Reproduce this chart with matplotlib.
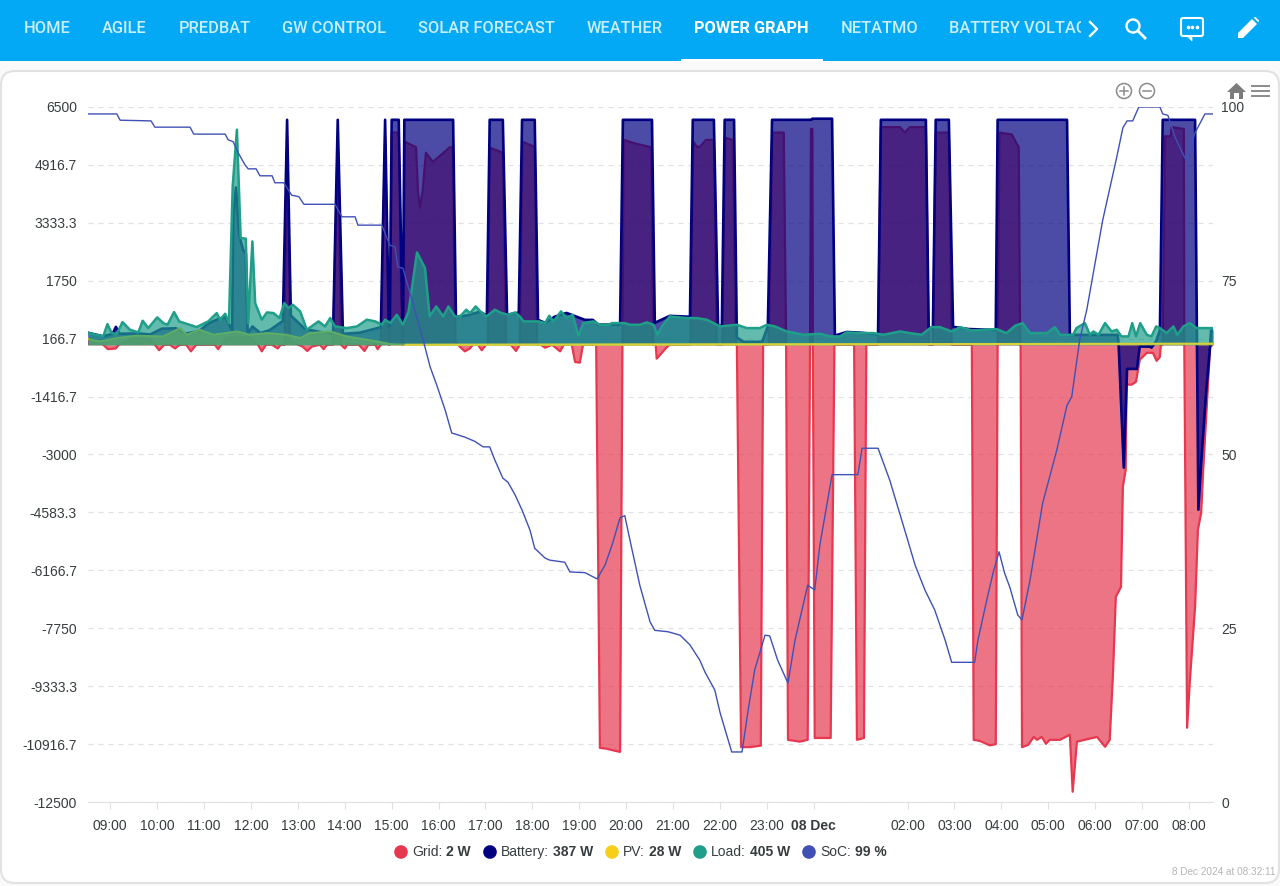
import matplotlib
matplotlib.use("Agg")
import matplotlib.pyplot as plt
from matplotlib.patches import Circle, FancyBboxPatch, Polygon, Rectangle

# hours are counted from midnight on 7 Dec, so 24 = 08 Dec 00:00
grid_h = [8.52, 8.78, 8.85, 8.95, 9.12, 9.18, 9.5, 9.85, 9.95, 10.04, 10.15, 10.27, 10.38, 10.48, 10.62, 10.72, 10.83,
          11.23, 11.30, 11.36, 11.5, 11.97, 12.15, 12.23, 12.32, 12.45, 12.57, 12.63,
          12.72, 12.77, 12.83, 13.1, 13.2, 13.3, 13.47, 13.55, 13.62, 13.75, 13.85, 13.92, 14.0, 14.05, 14.3, 14.42, 14.5,
          14.65, 14.70, 14.77, 14.86, 14.94, 14.96, 15.00, 15.15, 15.22, 15.25, 15.28, 15.52, 15.56, 15.60, 15.66, 15.73,
          15.88, 16.24, 16.30, 16.36, 16.45, 16.56, 16.67, 16.73, 16.84, 16.92, 17.01, 17.05, 17.09, 17.37, 17.44, 17.54,
          17.65, 17.73, 17.79, 18.05, 18.10, 18.18, 18.27, 18.42, 18.59, 18.67, 18.84, 18.91, 19.01, 19.08, 19.36, 19.44,
          19.59, 19.76, 19.87, 19.92, 19.95, 20.2, 20.53, 20.58, 20.63, 20.65, 20.76, 20.87, 20.93, 21.37, 21.43, 21.51,
          21.57, 21.70, 21.87, 21.93, 22.05, 22.11, 22.27, 22.34, 22.36, 22.45, 22.64, 22.87, 22.92, 23.04, 23.12, 23.36,
          23.41, 23.45, 23.70, 23.87, 23.92, 23.94, 23.97, 23.98, 24.02, 24.36, 24.44, 24.86, 24.92, 25.07, 25.12, 25.37,
          25.43, 25.84, 25.94, 26.05, 26.39, 26.45, 26.54, 26.60, 26.88, 26.94, 27.37, 27.41, 27.54, 27.75, 27.88, 27.92,
          27.96, 28.22, 28.37, 28.40, 28.41, 28.44, 28.57, 28.69, 28.76, 28.86, 28.95, 29.03, 29.25, 29.46, 29.52, 29.61,
          29.95, 30.04, 30.21, 30.31, 30.38, 30.44, 30.55, 30.59, 30.65, 30.67, 30.78, 30.87, 30.95, 31.10, 31.23, 31.31,
          31.38, 31.40, 31.44, 31.49, 31.61, 31.63, 31.89, 31.90, 31.96, 32.02, 32.13, 32.19, 32.26, 32.30, 32.40, 32.45,
          32.51]
grid_w = [150, 100, 0, -120, -100, 0, 180, 150, 0, -150, 0, 0, -100, 0, 0, -180, 0,
          0, -120, 0, 200, 200, 0, -180, 0, 0, -100, 0,
          0, 5700, 100, -50, -170, -50, 0, -120, 0, 0, 5700, 0, -100, 0, 0, -170, 0,
          0, -120, 0, 5700, 0, 0, 5800, 5800, 0, 0, 5550, 5400, 4200, 3750, 4200, 5250,
          5000, 5400, 5400, 100, -50, -180, -100, 0, 0, -150, 0, 0, 5390, 5250, 0, 0,
          -170, 0, 5550, 5410, 0, 0, -80, 0, -180, 0, 0, -470, -490, 0, 0, -11020,
          -11045, -11100, -11130, 0, 5600, 5500, 5400, 0, 0, -380, -220, -60, 0, 0, 5550, 5410,
          5410, 5600, 5600, 0, 0, 5660, 5600, 0, 0, -11000, -11000, -10960, 0, 0, 5800, 5800,
          0, -10800, -10850, -10800, 0, 5900, 5900, 0, -10750, -10750, 0, 0, -10800, -10750, 0, 0,
          5950, 5950, 5800, 5950, 5950, 0, 0, 5800, 5800, 0, 0, -10800, -10830, -10950, -10920, 0,
          5800, 5750, 5400, 0, 0, -11000, -10940, -10720, -10800, -10720, -10910, -10800, -10800, -10660, -12220, -10850,
          -10745, -10720, -10990, -10800, -8970, -6890, -6620, -3880, -3420, -1090, -1090, -1010, -410, -220, -220, -440,
          -330, 0, 0, 5700, 5700, 5950, 5900, 0, -10470, -9160, -7160, -5060, -4590, -3500, -1230, -55,
          0]

battery_h = [8.52, 8.85, 9.05, 9.12, 9.2, 9.6, 9.85, 10.1, 10.4, 10.6, 10.9, 11.1, 11.3, 11.45, 11.6, 11.62, 11.68, 11.75,
             11.83, 11.89, 11.93, 12.03, 12.2, 12.4,
             12.68, 12.77, 12.85, 13.15, 13.47, 13.75, 13.85, 13.96, 14.32, 14.77, 14.86, 14.94, 14.96, 15.00, 15.15, 15.23,
             15.24, 15.27, 16.31, 16.37, 16.6, 16.88, 17.03, 17.09, 17.37, 17.46, 17.71, 17.78, 18.05, 18.12, 18.27, 18.48,
             18.73, 19.12, 19.29, 19.40, 19.65, 19.87, 19.93, 20.55, 20.61, 20.93, 21.29, 21.36, 21.42, 21.87, 21.96, 22.04,
             22.10, 22.30, 22.36, 22.5, 22.9, 23.02, 23.11, 23.95, 23.97, 24.39, 24.45, 24.7, 25.0, 25.25, 25.37, 25.43,
             26.39, 26.45, 26.54, 26.60, 26.88, 26.97, 27.30, 27.75, 27.88, 27.92, 29.40, 29.46, 30.48, 30.50, 30.61, 30.68,
             30.89, 30.95, 31.17, 31.2, 31.3, 31.38, 31.44, 32.13, 32.17, 32.2, 32.27, 32.37, 32.45, 32.47, 32.51]
battery_w = [330, 230, 300, 490, 300, 310, 280, 440, 450, 300, 380, 590, 700, 760, 400, 3500, 4300, 3000,
             2600, 2500, 300, 500, 320, 400,
             650, 6150, 800, 430, 350, 300, 6150, 300, 330, 480, 6150, 520, 520, 6150, 6150, 650,
             650, 6150, 6150, 770, 800, 900, 800, 6150, 6150, 820, 880, 6150, 6150, 680, 600, 770,
             870, 680, 680, 550, 550, 550, 6150, 6150, 600, 790, 770, 770, 6150, 6150, 520, 520,
             6150, 6150, 200, 80, 80, 500, 6150, 6150, 6180, 6180, 250, 350, 330, 300, 280, 6150,
             6150, 460, 460, 6150, 6150, 490, 430, 410, 400, 6150, 6150, 270, 270, 0, -3360, -660,
             -660, -50, -50, -80, 100, 400, 6150, 6150, 100, -4510, -3050, -1230, -50, 387, 387]

pv_h = [8.53, 8.78, 9.14, 9.56, 10.13, 10.49, 10.63, 10.91, 11.20, 11.70, 11.98, 12.34, 12.76, 13.05, 13.26, 13.69, 14.04,
        14.68, 14.97, 15.3, 32.51]
pv_w = [155, 92, 183, 247, 228, 456, 274, 410, 274, 365, 274, 320, 274, 183, 320, 365, 228,
        92, 18, 0, 28]

load_h = [8.53, 8.85, 8.94, 9.03, 9.14, 9.26, 9.42, 9.60, 9.69, 9.81, 10.00, 10.13, 10.22, 10.36, 10.47, 10.84, 11.09,
          11.27, 11.34, 11.45, 11.53, 11.61, 11.70, 11.78, 11.89, 11.94, 12.03, 12.09, 12.23, 12.34, 12.48, 12.61, 12.71,
          12.80, 12.89, 13.05, 13.19, 13.44, 13.58, 13.69, 13.79, 14.04, 14.26, 14.47, 14.65, 14.79, 14.86, 14.97, 15.11,
          15.24, 15.36, 15.54, 15.71, 15.81, 15.95, 16.10, 16.21, 16.35, 16.46, 16.59, 16.67, 16.79, 16.89, 17.02, 17.20,
          17.34, 17.49, 17.63, 17.73, 17.81, 18.13, 18.27, 18.36, 18.45, 18.61, 18.73, 18.86, 18.98, 19.09, 19.30, 19.44,
          19.65, 19.69, 19.97, 20.08, 20.29, 20.44, 20.58, 20.67, 20.76, 20.93, 21.29, 21.50, 21.72, 22.00, 22.36, 22.57,
          22.85, 23.00, 23.17, 23.42, 23.60, 23.78, 24.13, 24.35, 24.56, 24.70, 24.99, 25.27, 25.48, 25.84, 26.05, 26.30,
          26.51, 26.69, 26.94, 27.12, 27.36, 27.65, 27.90, 28.11, 28.29, 28.45, 28.61, 28.97, 29.14, 29.25, 29.53, 29.60,
          29.78, 29.89, 29.96, 30.07, 30.21, 30.35, 30.46, 30.56, 30.71, 30.79, 30.87, 30.96, 31.10, 31.20, 31.30, 31.38,
          31.52, 31.67, 31.75, 31.88, 32.02, 32.16, 32.51]
load_w = [320, 228, 565, 320, 292, 620, 410, 338, 657, 456, 748, 593, 547, 894, 639, 484, 639,
          866, 684, 848, 593, 4330, 5880, 2917, 2900, 593, 2826, 1140, 684, 884, 866, 730, 1140,
          1003, 1094, 912, 410, 639, 502, 730, 502, 456, 502, 684, 639, 547, 684, 593, 820,
          547, 912, 2525, 2097, 775, 1048, 775, 1048, 775, 775, 958, 866, 1048, 912, 775, 958,
          866, 820, 884, 775, 639, 639, 593, 793, 639, 912, 730, 820, 247, 593, 639, 547,
          547, 593, 593, 547, 547, 611, 547, 274, 502, 775, 730, 730, 684, 502, 547, 456,
          456, 547, 502, 365, 320, 274, 301, 228, 228, 338, 320, 319, 273, 364, 319, 273,
          483, 483, 364, 483, 392, 410, 428, 319, 519, 592, 319, 319, 483, 273, 273, 456,
          592, 273, 364, 273, 592, 364, 410, 228, 228, 592, 228, 592, 273, 228, 501, 456,
          319, 501, 273, 501, 592, 456, 456]

soc_h = [8.52, 9.14, 9.21, 9.87, 9.95, 10.70, 10.78, 11.45, 11.51, 11.62, 11.72, 11.87, 11.94, 12.11, 12.19, 12.45, 12.51,
         12.70, 12.87, 13.02, 13.13, 13.79, 13.94, 14.22, 14.28, 14.79, 14.96, 15.07, 15.13, 15.24, 15.45, 15.67, 15.82,
         15.96, 16.14, 16.28, 16.56, 16.77, 16.95, 17.09, 17.20, 17.37, 17.48, 17.63, 17.78, 17.95, 18.05, 18.27, 18.37,
         18.69, 18.80, 19.12, 19.38, 19.55, 19.70, 19.87, 19.97, 20.08, 20.29, 20.51, 20.61, 20.89, 21.15, 21.36, 21.57,
         21.68, 21.89, 22.00, 22.25, 22.47, 22.60, 22.74, 22.96, 23.06, 23.23, 23.45, 23.60, 23.87, 24.02, 24.13, 24.39,
         24.94, 25.03, 25.37, 25.62, 25.94, 26.16, 26.37, 26.58, 26.80, 26.94, 27.43, 27.50, 27.69, 27.82, 27.95, 28.07,
         28.18, 28.35, 28.44, 28.61, 28.88, 29.18, 29.40, 29.50, 29.67, 29.82, 30.16, 30.46, 30.59, 30.68, 30.80, 30.93,
         31.38, 31.44, 31.55, 31.70, 31.91, 31.95, 32.13, 32.34, 32.51]
soc_pct = [99, 99, 98.1, 98, 97.1, 97.1, 96.1, 96.1, 95.3, 95, 93.5, 91.7, 91.1, 91.1, 90.1, 90.1, 89.1,
           89.1, 87.3, 87.1, 86, 86, 84.2, 84.2, 83, 83, 80.1, 79.9, 77, 76.8, 71.8, 66.5, 62.6,
           60, 56.4, 53.1, 52.5, 51.9, 51.1, 51.1, 49.2, 46.6, 46, 44.2, 42, 39.1, 36.5, 35.1, 34.8,
           34.5, 33.1, 33, 32.1, 34.1, 37, 40.9, 41.2, 37.7, 31.2, 25.9, 24.7, 24.5, 24, 22.6, 20.4,
           18.7, 16.1, 12.9, 7.2, 7.2, 13.2, 19, 24, 23.9, 20.4, 17.1, 23.3, 31.2, 30.5, 37, 47.1,
           47.1, 50.9, 50.9, 46.3, 39.1, 34.1, 30.5, 27.6, 23.3, 20.1, 20.1, 23.3, 29.1, 32.9, 36, 32.9,
           30.9, 26.9, 26.2, 31.9, 43, 50.6, 57.1, 58.3, 66.5, 70.8, 83.7, 92.8, 97, 98, 98, 100,
           100, 99, 98.8, 95.7, 92.7, 92.4, 96.3, 99, 99]

y_ticks = [6500, 4916.7, 3333.3, 1750, 166.7, -1416.7, -3000, -4583.3, -6166.7, -7750, -9333.3, -10916.7, -12500]
y_labels = ["6500", "4916.7", "3333.3", "1750", "166.7", "-1416.7", "-3000", "-4583.3", "-6166.7", "-7750", "-9333.3",
            "-10916.7", "-12500"]
soc_ticks = [0, 25, 50, 75, 100]
x_ticks = [9, 10, 11, 12, 13, 14, 15, 16, 17, 18, 19, 20, 21, 22, 23, 24, 26, 27, 28, 29, 30, 31, 32]
x_labels = ["09:00", "10:00", "11:00", "12:00", "13:00", "14:00", "15:00", "16:00", "17:00", "18:00", "19:00", "20:00",
            "21:00", "22:00", "23:00", "08 Dec", "02:00", "03:00", "04:00", "05:00", "06:00", "07:00", "08:00"]

tab_names = ["HOME", "AGILE", "PREDBAT", "GW CONTROL", "SOLAR FORECAST", "WEATHER", "POWER GRAPH", "NETATMO", "BATTERY VOLTAGE"]
tab_left = [24, 102, 179, 282, 418, 587, 694, 841, 949]

legend_names = ["Grid:", "Battery:", "PV:", "Load:", "SoC:"]
legend_values = ["2 W", "387 W", "28 W", "405 W", "99 %"]
legend_dot_x = [401, 490, 612, 700, 809]
legend_name_x = [412, 501, 623, 711, 820]
legend_value_x = [446, 553, 649, 750, 855]

GRID = "#e63950"
BATTERY = "#000080"
PV = "#f7ce1a"
LOAD = "#1f9e89"
SOC = "#3f51b5"
GREY = "#373d3f"

plt.rcParams["font.family"] = ["Liberation Sans", "DejaVu Sans"]

W, H = 1280, 886
fig = plt.figure(figsize=(W / 100, H / 100), dpi=100, facecolor="#fafafa")

# page furniture sits on a full figure axes measured in pixels
bg = fig.add_axes([0, 0, 1, 1], zorder=0)
bg.set_xlim(0, W)
bg.set_ylim(H, 0)
bg.axis("off")
bg.add_patch(FancyBboxPatch((1, 71), 1278, 812, boxstyle="round,pad=0,rounding_size=14", fc="white", ec="#e2e2e2", lw=1.5))
bg.add_patch(Rectangle((0, 0), W, 61, fc="#03a9f4", ec="none"))
bg.add_patch(Rectangle((681, 59), 142, 2.5, fc="white", ec="none"))

for name, left in zip(tab_names, tab_left):
    active = name == "POWER GRAPH"
    t = bg.text(left, 28, name, family="Roboto", fontsize=11.8, va="center", ha="left",
                color="white" if active else "#c9eefd", weight="bold" if active else "medium")
    if name == "BATTERY VOLTAGE":
        t.set_clip_on(True)
        t.set_clip_path(Rectangle((940, 0), 141, 61, transform=bg.transData))

bg.plot([1090, 1097, 1090], [22, 29, 36], color="white", lw=1.7)

# toolbar icons
bg.add_patch(Circle((1133, 26), 6.5, fc="none", ec="white", lw=1.7))
bg.plot([1138, 1145], [31, 38], color="white", lw=2)
bg.add_patch(FancyBboxPatch((1181, 18), 22, 18, boxstyle="round,pad=0,rounding_size=2", fc="none", ec="white", lw=1.5))
bg.add_patch(Polygon([(1187, 36), (1192, 41), (1192, 36)], fc="white", ec="white", lw=0.5))
bg.plot([1187.5, 1192, 1196.5], [27, 27, 27], ls="none", marker="o", ms=1.6, color="white")
bg.add_patch(Polygon([(1238, 38), (1238, 33), (1252, 19), (1257, 24), (1243, 38)], fc="white", ec="none"))
bg.add_patch(Polygon([(1253.5, 17.5), (1255.5, 17), (1259, 20.5), (1258.5, 22.5)], fc="white", ec="none"))

# chart controls
for cx in (1124, 1147):
    bg.add_patch(Circle((cx, 91), 7.5, fc="white", ec="#8b8b8b", lw=1.1))
    bg.plot([cx - 4, cx + 4], [91, 91], color="#8b8b8b", lw=1.1)
bg.plot([1124, 1124], [87, 95], color="#8b8b8b", lw=1.1)
bg.add_patch(Polygon([(1227, 92), (1236.5, 83), (1246, 92), (1243, 92), (1243, 99), (1239, 99), (1239, 93), (1234, 93),
                      (1234, 99), (1230, 99), (1230, 92)], fc="#7c7c7c", ec="none"))
for my in (86, 91, 96):
    bg.plot([1252, 1269], [my, my], color="#8b8b8b", lw=1.4)

ax = fig.add_axes([88 / W, 1 - 802 / H, 1125 / W, 695 / H], zorder=1)
ax.patch.set_alpha(0)
ax.fill_between(grid_h, grid_w, 0, color=GRID, alpha=0.7, lw=0, zorder=2)
ax.plot(grid_h, grid_w, color=GRID, lw=1.6, zorder=2)
ax.fill_between(battery_h, battery_w, 0, color=BATTERY, alpha=0.7, lw=0, zorder=3)
ax.plot(battery_h, battery_w, color=BATTERY, lw=1.9, zorder=3)
ax.fill_between(pv_h, pv_w, 0, color=PV, alpha=0.7, lw=0, zorder=4)
ax.plot(pv_h, pv_w, color=PV, lw=1.4, zorder=4)
ax.fill_between(load_h, load_w, 0, color=LOAD, alpha=0.7, lw=0, zorder=5)
ax.plot(load_h, load_w, color=LOAD, lw=1.8, zorder=5)
# once the sun is gone the PV line lies on the zero line and stays yellow
ax.plot(pv_h[-2:], pv_w[-2:], color="#d8d23a", lw=1.5, zorder=6)

ax.set_xlim(8.525, 32.512)
ax.set_ylim(-12500, 6500)
ax.set_yticks(y_ticks, y_labels)
ax.set_xticks(x_ticks, x_labels)
ax.grid(axis="y", color="#e0e0e0", ls=(0, (4, 4)), lw=0.9)
ax.set_axisbelow(True)
ax.tick_params(axis="y", length=0, pad=8, labelsize=10, labelcolor=GREY)
ax.tick_params(axis="x", length=5, width=0.8, color="#e0e0e0", pad=7, labelsize=10, labelcolor=GREY)
for lab in ax.get_xticklabels():
    if lab.get_text() == "08 Dec":
        lab.set_fontweight("bold")
for side in ("left", "right", "top"):
    ax.spines[side].set_visible(False)
ax.spines["bottom"].set_color("#e0e0e0")

soc_ax = ax.twinx()
soc_ax.set_zorder(2)
soc_ax.plot(soc_h, soc_pct, color=SOC, lw=1.0)
soc_ax.set_ylim(0, 100)
soc_ax.set_yticks(soc_ticks)
soc_ax.tick_params(axis="y", length=0, pad=6, labelsize=10, labelcolor=GREY)
for side in ("left", "right", "top", "bottom"):
    soc_ax.spines[side].set_visible(False)

# legend is written out by hand, the name and value have different weights
for colour, dot, name, name_x, value, value_x in zip([GRID, BATTERY, PV, LOAD, SOC], legend_dot_x, legend_names,
                                                     legend_name_x, legend_values, legend_value_x):
    bg.add_patch(Circle((dot, 852), 6.8, fc=colour, ec="none"))
    bg.text(name_x, 852, name, fontsize=10, color=GREY, va="center", ha="left")
    bg.text(value_x, 852, value, fontsize=10, color=GREY, va="center", ha="left", weight="bold")

bg.text(1275, 872, "8 Dec 2024 at 08:32:11", fontsize=7.2, color="#b5b5b5", va="center", ha="right")

fig.savefig("out.png", dpi=100, facecolor=fig.get_facecolor())
